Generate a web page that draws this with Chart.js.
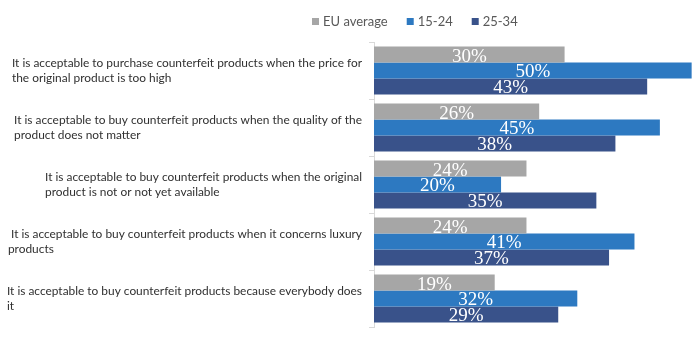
<!DOCTYPE html>
<html>
<head>
<meta charset="utf-8">
<script src="https://cdn.jsdelivr.net/npm/chart.js@4/dist/chart.umd.min.js"></script>
<style>
  html, body { margin: 0; padding: 0; background: #fff; }
  #wrap { width: 699px; height: 345px; }
</style>
</head>
<body>
<div id="wrap"><canvas id="chart"></canvas></div>
<script>
// survey statements, each one split into its display lines
const statements = [
  ['It is acceptable to purchase counterfeit products when the price for', 'the original product is too high'],
  ['It is acceptable to buy counterfeit products when the quality of the', 'product does not matter'],
  ['It is acceptable to buy counterfeit products when the original', 'product is not or not yet available'],
  [' It is acceptable to buy counterfeit products when it concerns luxury', 'products'],
  ['It is acceptable to buy counterfeit products because everybody does', 'it']
];
const seriesNames = ['EU average', '15-24', '25-34'];
const euAverage = [30, 26, 24, 24, 19];
const age15to24 = [50, 45, 20, 41, 32];
const age25to34 = [43, 38, 35, 37, 29];
const colors = ['#a6a6a6', '#2d79c1', '#39528a'];

const LABEL_FONT = 'Lato, "Open Sans", sans-serif';

// statement text on the left: lines left-aligned, block right-aligned to the axis
const statementLabels = {
  id: 'statementLabels',
  afterDraw(chart) {
    const ctx = chart.ctx;
    const y = chart.scales.y;
    const right = chart.chartArea.left - 12;
    const lineH = 15;
    ctx.save();
    ctx.font = '11.9px ' + LABEL_FONT;
    ctx.fillStyle = '#303030';
    ctx.textBaseline = 'middle';
    ctx.textAlign = 'left';
    statements.forEach((lines, i) => {
      const w = Math.max(...lines.map(l => ctx.measureText(l).width));
      const cy = y.getPixelForValue(i);
      const top = cy - (lines.length - 1) * lineH / 2;
      lines.forEach((l, j) => ctx.fillText(l, right - w, top + j * lineH));
    });
    ctx.restore();
  }
};

// percentages written in the middle of each bar
const barValues = {
  id: 'barValues',
  afterDatasetsDraw(chart) {
    const ctx = chart.ctx;
    ctx.save();
    ctx.font = '19px "Liberation Serif", serif';
    ctx.fillStyle = '#ffffff';
    ctx.textAlign = 'center';
    ctx.textBaseline = 'middle';
    chart.data.datasets.forEach((ds, di) => {
      chart.getDatasetMeta(di).data.forEach((bar, i) => {
        ctx.fillText(ds.data[i] + '%', (bar.base + bar.x) / 2, bar.y + 2);
      });
    });
    ctx.restore();
  }
};

// legend row across the top
const topLegend = {
  id: 'topLegend',
  afterDraw(chart) {
    const ctx = chart.ctx;
    ctx.save();
    ctx.font = '13px ' + LABEL_FONT;
    ctx.textBaseline = 'middle';
    let x = 312;
    const cy = 22;
    chart.data.datasets.forEach((ds) => {
      ctx.fillStyle = ds.backgroundColor;
      ctx.fillRect(x, cy - 4, 7, 7);
      ctx.fillStyle = '#595959';
      ctx.fillText(ds.label, x + 11, cy);
      x += 11 + ctx.measureText(ds.label).width + 19;
    });
    ctx.restore();
  }
};

new Chart(document.getElementById('chart'), {
  type: 'bar',
  data: {
    labels: statements.map(s => s.join(' ')),
    datasets: [
      { label: seriesNames[0], data: euAverage, backgroundColor: colors[0] },
      { label: seriesNames[1], data: age15to24, backgroundColor: colors[1] },
      { label: seriesNames[2], data: age25to34, backgroundColor: colors[2] }
    ]
  },
  options: {
    indexAxis: 'y',
    responsive: true,
    maintainAspectRatio: false,
    animation: false,
    datasets: {
      bar: { categoryPercentage: 0.84, barPercentage: 1.0 }
    },
    layout: { padding: { top: 42, left: 369, right: 1, bottom: 18 } },
    plugins: {
      legend: { display: false },
      tooltip: { enabled: false }
    },
    scales: {
      x: { display: false, min: 0, max: 51 },
      y: {
        ticks: { display: false },
        grid: { offset: true, drawOnChartArea: false, tickLength: 5, color: '#d9d9d9' },
        border: { color: '#d9d9d9' }
      }
    }
  },
  plugins: [statementLabels, barValues, topLegend]
});
</script>
</body>
</html>
